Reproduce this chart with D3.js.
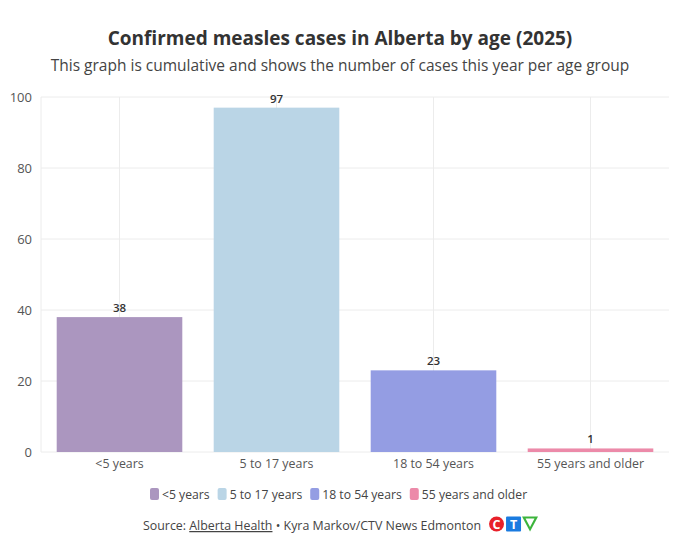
<!DOCTYPE html>
<html>
<head>
<meta charset="utf-8">
<script src="https://cdn.jsdelivr.net/npm/d3@7"></script>
<style>
  body { margin: 0; background: #fff; font-family: "Open Sans", sans-serif; }
</style>
</head>
<body>
<div class="graph"></div>
<script>
var categories = ['<5 years', '5 to 17 years', '18 to 54 years', '55 years and older'];
var cases = [38, 97, 23, 1];
var colors = ['#ab96bf', '#bad5e6', '#949de3', '#ec8aa9'];
var yTicks = [0, 20, 40, 60, 80, 100];

var width = 680;
var height = 541;
var margin = {top: 97, right: 11, bottom: 89, left: 41};

var svg = d3.select(".graph")
            .append("svg")
            .attr("width", width)
            .attr("height", height);

svg.append("text")
   .attr("x", width / 2).attr("y", 45)
   .attr("text-anchor", "middle")
   .attr("font-size", 19).attr("font-weight", 700)
   .attr("fill", "#333")
   .text("Confirmed measles cases in Alberta by age (2025)");

svg.append("text")
   .attr("x", width / 2).attr("y", 71)
   .attr("text-anchor", "middle")
   .attr("font-size", 15.5)
   .attr("fill", "#444")
   .text("This graph is cumulative and shows the number of cases this year per age group");

var x = d3.scaleBand()
          .domain(categories)
          .range([margin.left, width - margin.right])
          .paddingInner(0.2)
          .paddingOuter(0.1);

var y = d3.scaleLinear()
          .domain([0, 100])
          .range([height - margin.bottom, margin.top]);

// grid
svg.append("g").selectAll("line.h")
   .data(yTicks)
   .enter().append("line")
   .attr("x1", margin.left).attr("x2", width - margin.right)
   .attr("y1", function(d) { return y(d); })
   .attr("y2", function(d) { return y(d); })
   .attr("stroke", "#ececec");

svg.append("g").selectAll("line.v")
   .data(categories)
   .enter().append("line")
   .attr("x1", function(d) { return x(d) + x.bandwidth() / 2; })
   .attr("x2", function(d) { return x(d) + x.bandwidth() / 2; })
   .attr("y1", margin.top).attr("y2", y(0))
   .attr("stroke", "#ececec");

svg.append("line")
   .attr("x1", margin.left).attr("x2", margin.left)
   .attr("y1", margin.top).attr("y2", y(0))
   .attr("stroke", "#ececec");

var yAxis = svg.append("g")
   .attr("transform", "translate(" + margin.left + ",0)")
   .call(d3.axisLeft(y).tickValues(yTicks).tickSize(0).tickPadding(9));
yAxis.select(".domain").remove();
yAxis.selectAll("text").attr("font-size", 13).attr("fill", "#555")
     .attr("font-family", "Open Sans, sans-serif");

var xAxis = svg.append("g")
   .attr("transform", "translate(0," + y(0) + ")")
   .call(d3.axisBottom(x).tickSize(0).tickPadding(7));
xAxis.select(".domain").remove();
xAxis.selectAll("text").attr("font-size", 12.4).attr("fill", "#555")
     .attr("font-family", "Open Sans, sans-serif");

svg.selectAll("rect.bar")
   .data(cases)
   .enter().append("rect")
   .attr("class", "bar")
   .attr("x", function(d, i) { return x(categories[i]); })
   .attr("width", x.bandwidth())
   .attr("y", function(d) { return y(d); })
   .attr("height", function(d) { return y(0) - y(d); })
   .attr("fill", function(d, i) { return colors[i]; });

svg.selectAll("text.val")
   .data(cases)
   .enter().append("text")
   .attr("class", "val")
   .attr("x", function(d, i) { return x(categories[i]) + x.bandwidth() / 2; })
   .attr("y", function(d) { return y(d) - 5; })
   .attr("text-anchor", "middle")
   .attr("font-size", 11.5).attr("font-weight", 600)
   .attr("fill", "#333")
   .text(function(d) { return d; });

// legend
var legend = svg.append("g").attr("transform", "translate(0,494)");
var lx = 150;
categories.forEach(function(c, i) {
  var g = legend.append("g").attr("transform", "translate(" + lx + ",0)");
  g.append("rect").attr("x", 0).attr("y", -6).attr("width", 9).attr("height", 12)
   .attr("rx", 2).attr("fill", colors[i]);
  var t = g.append("text").attr("x", 12).attr("y", 4.5)
   .attr("font-size", 12.2).attr("fill", "#444").text(c);
  lx += 12 + t.node().getComputedTextLength() + 8;
});

// source line
var src = svg.append("text").attr("y", 530).attr("font-size", 12.4).attr("fill", "#444");
src.append("tspan").text("Source: ");
src.append("tspan").attr("text-decoration", "underline").text("Alberta Health");
src.append("tspan").text(" \u2022 Kyra Markov/CTV News Edmonton");
var sw = src.node().getComputedTextLength();
var sx = (width - sw - 56) / 2;
src.attr("x", sx);

var logo = svg.append("g").attr("transform", "translate(" + (sx + sw + 8) + ",524)");
logo.append("circle").attr("cx", 7.5).attr("cy", 0).attr("r", 7.5).attr("fill", "#e8202a");
logo.append("text").attr("x", 7.5).attr("y", 4.5).attr("text-anchor", "middle")
    .attr("font-size", 12.5).attr("font-weight", 700).attr("fill", "#fff").text("C");
logo.append("rect").attr("x", 17).attr("y", -7.5).attr("width", 15).attr("height", 15)
    .attr("rx", 1).attr("fill", "#1a7be0");
logo.append("text").attr("x", 24.5).attr("y", 4.5).attr("text-anchor", "middle")
    .attr("font-size", 12.5).attr("font-weight", 700).attr("fill", "#fff").text("T");
logo.append("path").attr("d", "M33,-7.5 L49,-7.5 L41,7.5 Z").attr("fill", "#3cb43c");
logo.append("path").attr("d", "M36.5,-5.5 L45.5,-5.5 L41,3 Z").attr("fill", "#fff");
</script>
</body>
</html>
